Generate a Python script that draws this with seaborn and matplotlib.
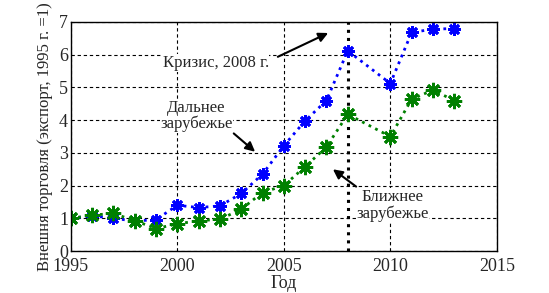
import numpy as np
import pandas as pd
import matplotlib
matplotlib.use('Agg')
import matplotlib.pyplot as plt
import seaborn as sns

years = [1995, 1996, 1997, 1998, 1999, 2000, 2001, 2002, 2003, 2004, 2005, 2006, 2007, 2008, 2010, 2011, 2012, 2013]
far_abroad = [1.0, 1.08, 1.0, 0.92, 0.96, 1.4, 1.33, 1.38, 1.76, 2.35, 3.22, 3.98, 4.6, 6.12, 5.12, 6.68, 6.78, 6.8]
near_abroad = [1.0, 1.1, 1.15, 0.93, 0.69, 0.83, 0.93, 0.97, 1.28, 1.79, 2.0, 2.58, 3.18, 4.18, 3.5, 4.64, 4.92, 4.6]
crisis_year = 2008

d = pd.DataFrame({'year': years, 'far': far_abroad, 'near': near_abroad})

sns.set_style('white')
plt.rcParams['font.family'] = ['Liberation Serif', 'DejaVu Serif']

fig = plt.figure(figsize=(5.49, 2.93), dpi=100)
ax = fig.add_axes([0.129, 0.143, 0.776, 0.782])

star = (8, 2, 0)
sns.lineplot(data=d, x='year', y='far', ax=ax, color='blue', linestyle=':', linewidth=2,
             marker=star, markersize=9, markeredgewidth=2, markeredgecolor='blue')
sns.lineplot(data=d, x='year', y='near', ax=ax, color='green', linestyle=':', linewidth=2,
             marker=star, markersize=11, markeredgewidth=2, markeredgecolor='green')

ax.axvline(crisis_year, ymin=0, ymax=1, color='black', linestyle=':', linewidth=2.2, zorder=1)

ax.set_xlim(1995, 2015)
ax.set_ylim(0, 7)
ax.set_xticks([1995, 2000, 2005, 2010, 2015])
ax.set_yticks(range(0, 8))
ax.grid(True, color='black', linestyle='--', linewidth=0.8, dashes=(3, 2.5))
ax.set_axisbelow(True)
for s in ax.spines.values():
    s.set_color('black')
    s.set_linewidth(1)
ax.tick_params(axis='both', labelsize=13, length=0)
ax.tick_params(axis='x', pad=5)
ax.tick_params(axis='y', pad=2)
ax.set_xlabel('Год', fontsize=13, labelpad=0)
ax.set_ylabel('Внешня торговля (экспорт, 1995 г. =1)', fontsize=12, labelpad=4)

box = dict(facecolor='white', edgecolor='none', pad=0.5)
ax.text(2001.8, 5.75, 'Кризис, 2008 г.', fontsize=12, ha='center', va='center', bbox=box)
ax.annotate('', xy=(2007.2, 6.7), xytext=(2004.6, 5.9),
            arrowprops=dict(arrowstyle='-|>', color='black', lw=1.5, mutation_scale=14))

ax.text(2000.9, 4.12, 'Дальнее\nзарубежье', fontsize=12, ha='center', va='center',
        linespacing=1.0, bbox=box)
ax.annotate('', xy=(2003.75, 2.98), xytext=(2002.55, 3.65),
            arrowprops=dict(arrowstyle='-|>', color='black', lw=1.5, mutation_scale=14))

ax.text(2010.1, 1.4, 'Ближнее\nзарубежье', fontsize=12, ha='center', va='center',
        linespacing=1.0, bbox=box)
ax.annotate('', xy=(2007.2, 2.55), xytext=(2008.5, 1.92),
            arrowprops=dict(arrowstyle='-|>', color='black', lw=1.5, mutation_scale=14))

fig.savefig('out.png', dpi=100)
